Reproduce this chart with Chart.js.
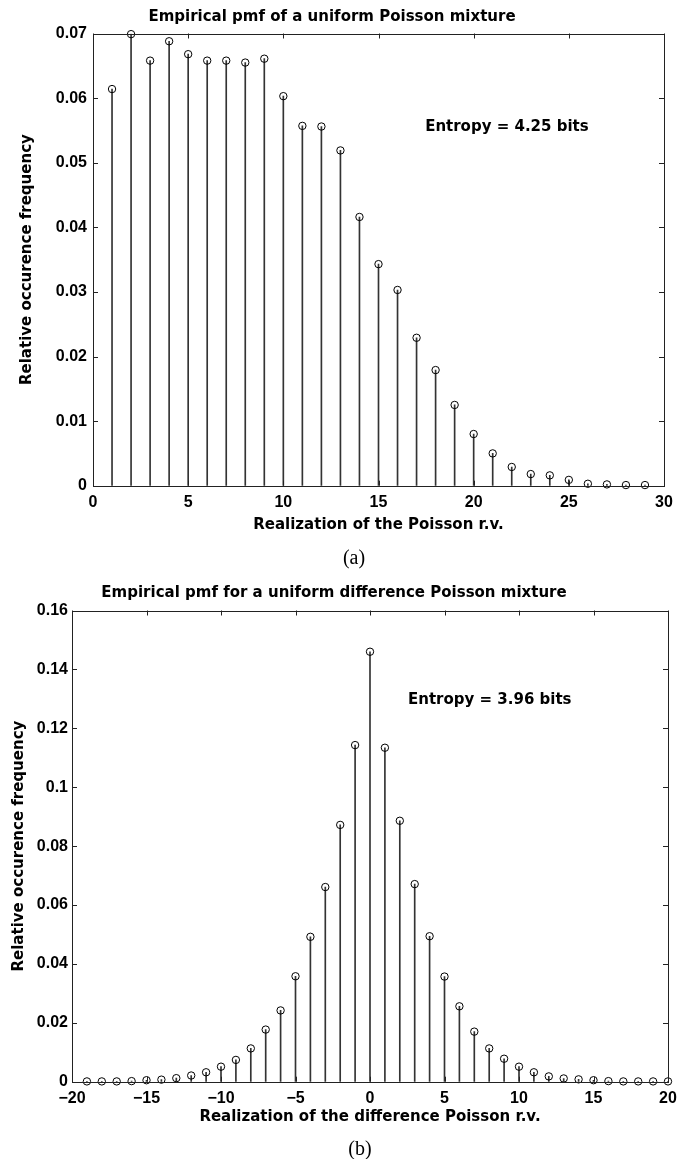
<!DOCTYPE html>
<html>
<head>
<meta charset="utf-8">
<script src="https://cdn.jsdelivr.net/npm/chart.js@4.4.1/dist/chart.umd.min.js"></script>
<style>
  body { margin: 0; background: #fff; width: 687px; height: 1159px; position: relative; overflow: hidden; }
  canvas { position: absolute; left: 0; }
  .cap { position: absolute; font-family: "Liberation Serif", "DejaVu Serif", serif; font-size: 20px; color: #000; transform: translate(-50%, -50%); }
</style>
</head>
<body>
<canvas id="chartA" width="687" height="575" style="top:0px"></canvas>
<canvas id="chartB" width="687" height="584" style="top:575px"></canvas>
<div class="cap" style="left:354px; top:557px">(a)</div>
<div class="cap" style="left:360px; top:1148px">(b)</div>
<script>
// (a) uniform Poisson mixture
const xPoisson = [1, 2, 3, 4, 5, 6, 7, 8, 9, 10, 11, 12, 13, 14, 15, 16, 17, 18, 19, 20, 21, 22, 23, 24, 25, 26, 27, 28, 29];
const pmfPoisson = [0.0614, 0.0699, 0.0658, 0.0688, 0.0668, 0.0658, 0.0658, 0.0655, 0.0661, 0.0603,
  0.0557, 0.0556, 0.0519, 0.0416, 0.0343, 0.0303, 0.0229, 0.0179, 0.0125, 0.0080,
  0.0050, 0.0029, 0.0018, 0.0016, 0.0009, 0.0003, 0.0002, 0.0001, 0.0001];
const xTicksA = [0, 5, 10, 15, 20, 25, 30];
const yTicksA = [0, 0.01, 0.02, 0.03, 0.04, 0.05, 0.06, 0.07];

// (b) uniform difference Poisson mixture
const xDiff = [-19, -18, -17, -16, -15, -14, -13, -12, -11, -10, -9, -8, -7, -6, -5, -4, -3, -2, -1, 0,
  1, 2, 3, 4, 5, 6, 7, 8, 9, 10, 11, 12, 13, 14, 15, 16, 17, 18, 19, 20];
const pmfDiff = [0.0001, 0.0001, 0.0001, 0.0002, 0.0005, 0.0007, 0.0012, 0.0021, 0.0032, 0.0051,
  0.0074, 0.0113, 0.0177, 0.0242, 0.0358, 0.0492, 0.0661, 0.0872, 0.1143, 0.1460,
  0.1134, 0.0886, 0.0671, 0.0494, 0.0357, 0.0256, 0.0170, 0.0113, 0.0078, 0.0051,
  0.0032, 0.0018, 0.0011, 0.0008, 0.0005, 0.0002, 0.0001, 0.0001, 0.0001, 0.0001];
const xTicksB = [-20, -15, -10, -5, 0, 5, 10, 15, 20];
const yTicksB = [0, 0.02, 0.04, 0.06, 0.08, 0.1, 0.12, 0.14, 0.16];

const labelFont = { family: "DejaVu Sans", size: 15, weight: "bold" };
const tickFont = { family: "Liberation Sans", size: 16, weight: "bold" };

// matlab style box with inward ticks
const boxPlugin = {
  id: "box",
  afterDatasetsDraw(chart) {
    const { ctx, chartArea: a, scales } = chart;
    ctx.save();
    ctx.strokeStyle = "#222";
    ctx.lineWidth = 1;
    ctx.strokeRect(Math.round(a.left) + 0.5, Math.round(a.top) + 0.5,
      Math.round(a.right - a.left), Math.round(a.bottom - a.top));
    ctx.beginPath();
    scales.y.ticks.forEach((t) => {
      const py = Math.round(scales.y.getPixelForValue(t.value)) + 0.5;
      ctx.moveTo(a.left, py); ctx.lineTo(a.left + 5, py);
      ctx.moveTo(a.right, py); ctx.lineTo(a.right - 5, py);
    });
    scales.x.ticks.forEach((t) => {
      const px = Math.round(scales.x.getPixelForValue(t.value)) + 0.5;
      ctx.moveTo(px, a.bottom); ctx.lineTo(px, a.bottom - 5);
      ctx.moveTo(px, a.top); ctx.lineTo(px, a.top + 5);
    });
    ctx.stroke();
    // entropy note
    const note = chart.options.plugins.box;
    ctx.fillStyle = "#000";
    ctx.font = "bold 15px 'DejaVu Sans'";
    ctx.textAlign = "left";
    ctx.textBaseline = "middle";
    ctx.fillText(note.text, scales.x.getPixelForValue(note.x), scales.y.getPixelForValue(note.y));
    ctx.restore();
  },
};

function minus(v) {
  return v < 0 ? "\u2212" + Math.abs(v) : String(v);
}

function makeStemChart(id, opts) {
  const pts = opts.xs.map((x, i) => ({ x: x, y: opts.ys[i] }));
  return new Chart(document.getElementById(id), {
    type: "bar",
    data: {
      datasets: [
        {
          type: "scatter",
          data: pts,
          pointStyle: "circle",
          pointRadius: 3.7,
          pointBorderWidth: 1,
          pointBorderColor: "#000",
          pointBackgroundColor: "rgba(0,0,0,0)",
          clip: false,
          order: 1,
        },
        {
          type: "bar",
          data: pts,
          barThickness: 1,
          backgroundColor: "#333",
          borderWidth: 0,
          order: 2,
        },
      ],
    },
    options: {
      responsive: false,
      animation: false,
      events: [],
      layout: { padding: { left: 0, right: opts.padRight, top: 0, bottom: 0 } },
      plugins: {
        legend: { display: false },
        tooltip: { enabled: false },
        title: {
          display: true,
          text: opts.title,
          color: "#000",
          font: labelFont,
          padding: opts.titlePad,
        },
        box: opts.note,
      },
      scales: {
        x: {
          type: "linear",
          offset: false,
          min: opts.xTicks[0],
          max: opts.xTicks[opts.xTicks.length - 1],
          afterBuildTicks: (s) => { s.ticks = opts.xTicks.map((v) => ({ value: v })); },
          afterFit: (s) => { s.height = opts.xAxisHeight; },
          grid: { display: false, drawTicks: false },
          border: { display: false },
          ticks: { color: "#000", font: tickFont, padding: opts.xTickPad, maxRotation: 0, callback: (v) => minus(v) },
          title: { display: true, text: opts.xTitle, color: "#000", font: labelFont, padding: { top: 0, bottom: opts.xTitlePad } },
        },
        y: {
          type: "linear",
          min: 0,
          max: opts.yTicks[opts.yTicks.length - 1],
          afterBuildTicks: (s) => { s.ticks = opts.yTicks.map((v) => ({ value: v })); },
          afterFit: (s) => { s.width = opts.yAxisWidth; },
          grid: { display: false, drawTicks: false },
          border: { display: false },
          ticks: { color: "#000", font: tickFont, padding: opts.yTickPad, callback: (v) => String(v) },
          title: { display: true, text: "Relative occurence frequency", color: "#000", font: labelFont, padding: { top: opts.yTitlePad, bottom: 0 } },
        },
      },
    },
    plugins: [boxPlugin],
  });
}

makeStemChart("chartA", {
  xs: xPoisson,
  ys: pmfPoisson,
  xTicks: xTicksA,
  yTicks: yTicksA,
  title: "Empirical pmf of a uniform Poisson mixture",
  titlePad: { top: 8, bottom: 7.5 },
  xTitle: "Realization of the Poisson r.v.",
  padRight: 23,
  yAxisWidth: 93,
  xAxisHeight: 89.3,
  xTickPad: 7,
  xTitlePad: 41,
  yTickPad: 6,
  yTitlePad: 18,
  note: { text: "Entropy = 4.25 bits", x: 17.45, y: 0.0555 },
});

makeStemChart("chartB", {
  xs: xDiff,
  ys: pmfDiff,
  xTicks: xTicksB,
  yTicks: yTicksB,
  title: "Empirical pmf for a uniform difference Poisson mixture",
  titlePad: { top: 9.3, bottom: 8.2 },
  xTitle: "Realization of the difference Poisson r.v.",
  padRight: 19,
  yAxisWidth: 72,
  xAxisHeight: 77.3,
  xTickPad: 7,
  xTitlePad: 33,
  yTickPad: 4,
  yTitlePad: 10,
  note: { text: "Entropy = 3.96 bits", x: 2.55, y: 0.1296 },
});
</script>
</body>
</html>
